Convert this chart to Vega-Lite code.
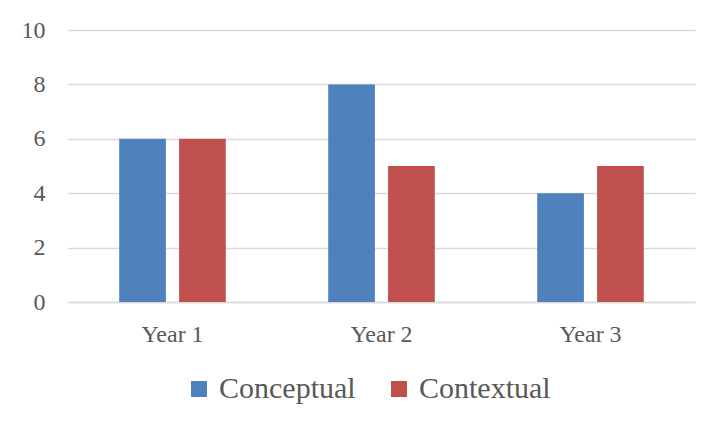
{
  "$schema": "https://vega.github.io/schema/vega-lite/v6.json",
  "width": 627,
  "height": 272,
  "autosize": {"type": "none"},
  "padding": {"left": 68, "top": 30, "right": 27, "bottom": 128},
  "background": "white",
  "data": {"values": [
    {"year": "Year 1", "series": "Conceptual", "value": 6},
    {"year": "Year 1", "series": "Contextual", "value": 6},
    {"year": "Year 2", "series": "Conceptual", "value": 8},
    {"year": "Year 2", "series": "Contextual", "value": 5},
    {"year": "Year 3", "series": "Conceptual", "value": 4},
    {"year": "Year 3", "series": "Contextual", "value": 5}
  ]},
  "mark": {"type": "bar"},
  "encoding": {
    "x": {"field": "year", "type": "nominal", "title": null,
      "scale": {"paddingInner": 0.49, "paddingOuter": 0.245},
      "axis": {"labelAngle": 0, "ticks": false, "domainColor": "#D9D9D9", "domainWidth": 1.5, "labelPadding": 20, "labelFontSize": 24, "labelFont": "Liberation Serif", "labelColor": "#595959", "grid": false}},
    "xOffset": {"field": "series", "type": "nominal", "scale": {"paddingInner": 0.22, "paddingOuter": 0}},
    "y": {"field": "value", "type": "quantitative", "title": null,
      "scale": {"domain": [0, 10]},
      "axis": {"values": [0, 2, 4, 6, 8, 10], "ticks": false, "domain": false, "gridColor": "#D9D9D9", "gridWidth": 1.5, "labelPadding": 23, "labelFontSize": 24, "labelFont": "Liberation Serif", "labelColor": "#595959"}},
    "color": {"field": "series", "type": "nominal",
      "scale": {"domain": ["Conceptual", "Contextual"], "range": ["#4F81BD", "#C0504D"]},
      "legend": {"title": null, "orient": "none", "direction": "horizontal", "legendX": 116, "legendY": 344, "symbolType": "square", "symbolSize": 256, "labelFontSize": 30, "labelFont": "Liberation Serif", "labelColor": "#595959", "columnPadding": 28, "symbolStrokeWidth": 0, "labelOffset": 5}
    }
  },
  "config": {"view": {"stroke": null}}
}
